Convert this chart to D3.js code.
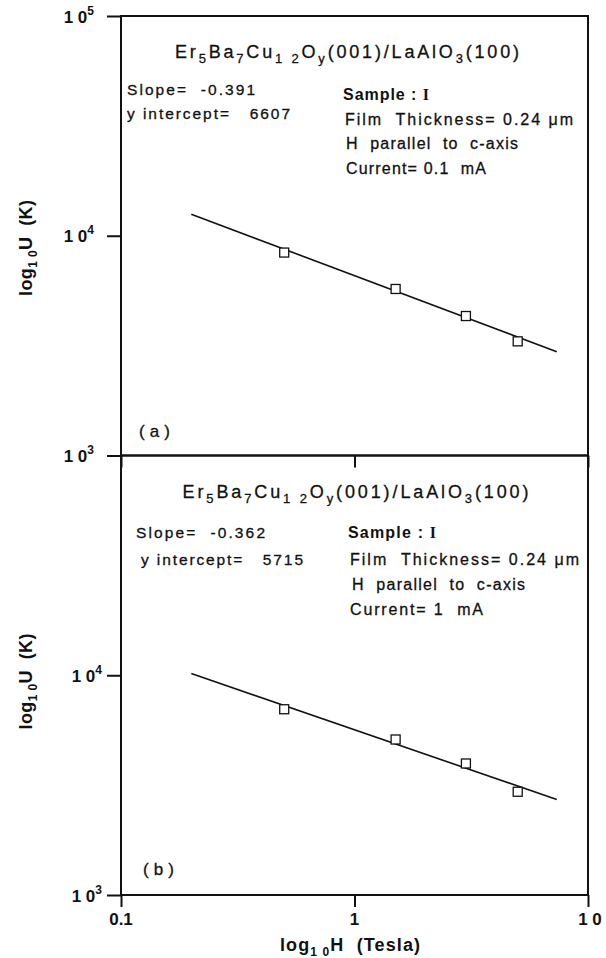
<!DOCTYPE html>
<html lang="en">
  <head>
    <meta charset="UTF-8" />
    <title>U vs H, Er5Ba7Cu12Oy / LaAlO3</title>
    <script src="https://cdnjs.cloudflare.com/ajax/libs/d3/7.8.5/d3.min.js"></script>
    <style>
      body { margin: 0; background: #fff; }
      svg { font-family: "Liberation Sans", Arial, sans-serif; }
      svg text { fill: #111; stroke: #111; stroke-width: 0.3px; white-space: pre; }
    </style>
  </head>
  <body>
    <div id="chart"></div>

    <script type="text/javascript">
      /* values */
      var fieldH = [0.5, 1.5, 3, 5];
      var uCurrent01 = [8385, 5725, 4312, 3307];
      var uCurrent1 = [7003, 5101, 3967, 2950];
      var fitH = [0.2, 7.35];
      var fitCurrent01 = [12520, 2968];
      var fitCurrent1 = [10180, 2720];

      var xTicks = [0.1, 1, 10];
      var xTickLabels = ["0.1", "1", "1 0"];
      var yTicksTop = [1e3, 1e4, 1e5];
      var yTicksBottom = [1e3, 1e4];

      var fitTextTop = ["Slope=  -0.391", "y intercept=   6607"];
      var fitTextBottom = ["Slope=  -0.362", "y intercept=   5715"];
      var infoTop = ["Film  Thickness= 0.24 \u03bcm", "H  parallel  to  c-axis", "Current= 0.1  mA"];
      var infoBottom = ["Film  Thickness= 0.24 \u03bcm", "H  parallel  to  c-axis", "Current= 1  mA"];

      var W = 606, H = 958;
      var svg = d3.select("#chart").append("svg")
        .attr("width", W).attr("height", H);

      var x = d3.scaleLog().domain([0.1, 10]).range([121, 588]);

      // layout of each panel: text boxes as [x, baseline, width]
      var panels = [
        { y0: 16, y1: 455.5, u: uCurrent01, fit: fitCurrent01, ticks: yTicksTop, labelEnd: 94,
          fitText: fitTextTop, info: infoTop, tag: "(a)", tagPos: [139, 437], ylabelY: 248,
          titleBox: [175, 58, 344],
          fitBox: [[127, 95, 128], [127, 118.5, 163]],
          sampleBox: [343, 99.5, 86],
          infoBox: [[345, 124.5, 228], [346, 149, 172], [346, 174, 140]] },
        { y0: 455.5, y1: 895, u: uCurrent1, fit: fitCurrent1, ticks: yTicksBottom, labelEnd: 102,
          fitText: fitTextBottom, info: infoBottom, tag: "(b)", tagPos: [143, 875], ylabelY: 681.5,
          titleBox: [182.5, 498, 346],
          fitBox: [[136, 538, 129], [141, 565, 162]],
          sampleBox: [348, 538, 88],
          infoBox: [[350, 565, 229], [352, 590, 173], [350, 615, 133]] }
      ];

      function title(g, b) {
        /* Er5Ba7Cu12Oy(001)/LaAlO3(100) with subscripts */
        var parts = [["Er", 0], ["5", 1], ["Ba", 0], ["7", 1], ["Cu", 0], ["1 2", 1], ["O", 0], ["y", 1],
                     ["(001)/LaAlO", 0], ["3", 1], ["(100)", 0]];
        var t = g.append("text").attr("x", b[0]).attr("y", b[1])
          .attr("textLength", b[2]).attr("lengthAdjust", "spacing")
          .style("font-size", "18px");
        var low = false;
        parts.forEach(function (p) {
          var s = t.append("tspan").text(p[0]);
          if (p[1]) s.style("font-size", "13px");
          if (p[1] && !low) { s.attr("dy", 5); low = true; }
          else if (!p[1] && low) { s.attr("dy", -5); low = false; }
        });
      }

      function boxText(g, b, s, size) {
        return g.append("text").attr("x", b[0]).attr("y", b[1])
          .attr("textLength", b[2]).attr("lengthAdjust", "spacing")
          .style("font-size", size + "px").text(s);
      }

      panels.forEach(function (p) {
        var y = d3.scaleLog().domain([1e3, 1e5]).range([p.y1, p.y0]);
        var g = svg.append("g");

        g.append("rect")
          .attr("x", x(0.1)).attr("y", y(1e5))
          .attr("width", x(10) - x(0.1)).attr("height", y(1e3) - y(1e5))
          .attr("fill", "none").attr("stroke", "#111").attr("stroke-width", 2);

        var ya = g.append("g").attr("transform", "translate(" + x(0.1) + ",0)")
          .call(d3.axisLeft(y).tickValues(p.ticks).tickSize(14).tickFormat(""));
        var xa = g.append("g").attr("transform", "translate(0," + y(1e3) + ")")
          .call(d3.axisBottom(x).tickValues(xTicks).tickSize(12).tickFormat(""));
        [ya, xa].forEach(function (a) {
          a.select(".domain").remove();
          a.selectAll("line").attr("stroke", "#111").attr("stroke-width", 2);
        });

        /* y tick labels 10^n */
        p.ticks.forEach(function (v) {
          var t = g.append("text").attr("x", p.labelEnd).attr("y", y(v) + 6.5)
            .attr("text-anchor", "end").style("font-size", "17px").style("font-weight", "bold")
            .style("stroke-width", "0px");
          t.append("tspan").text("1 0");
          t.append("tspan").attr("dy", -8).style("font-size", "12px").text(Math.round(Math.log10(v)));
        });

        /* fitted line */
        var line = d3.line().x(function (d) { return x(d[0]); }).y(function (d) { return y(d[1]); });
        g.append("path").datum(d3.zip(fitH, p.fit)).attr("d", line)
          .attr("fill", "none").attr("stroke", "#111").attr("stroke-width", 1.6);

        /* measured points */
        g.selectAll("rect.pt").data(d3.zip(fieldH, p.u)).enter().append("rect")
          .attr("class", "pt")
          .attr("x", function (d) { return x(d[0]) - 4.5; })
          .attr("y", function (d) { return y(d[1]) - 4.5; })
          .attr("width", 9).attr("height", 9)
          .attr("fill", "#fff").attr("stroke", "#111").attr("stroke-width", 1.3);

        title(g, p.titleBox);

        p.fitText.forEach(function (s, i) { boxText(g, p.fitBox[i], s, 15.5); });

        var smp = g.append("text").attr("x", p.sampleBox[0]).attr("y", p.sampleBox[1])
          .attr("textLength", p.sampleBox[2]).attr("lengthAdjust", "spacing")
          .style("font-size", "16px").style("font-weight", "bold").style("stroke-width", "0px");
        smp.append("tspan").text("Sample : ");
        smp.append("tspan").style("font-family", "'Liberation Serif', serif").text("I");

        p.info.forEach(function (s, i) { boxText(g, p.infoBox[i], s, 16); });

        g.append("text").attr("x", p.tagPos[0]).attr("y", p.tagPos[1]).text(p.tag)
          .attr("textLength", 31).attr("lengthAdjust", "spacing")
          .style("font-size", "17px");

        /* y axis title */
        var yl = g.append("text")
          .attr("transform", "translate(32," + p.ylabelY + ") rotate(-90)")
          .attr("text-anchor", "middle").attr("textLength", 96).attr("lengthAdjust", "spacing")
          .style("font-size", "18px").style("font-weight", "bold").style("stroke-width", "0px");
        yl.append("tspan").text("log");
        yl.append("tspan").attr("dy", 5).style("font-size", "12px").text("1 0");
        yl.append("tspan").attr("dy", -5).text("U  (K)");
      });

      /* x tick labels and title (bottom panel only) */
      svg.selectAll("text.xt").data(xTicks).enter().append("text")
        .attr("class", "xt")
        .attr("x", function (d) { return x(d) + (d === 10 ? 2 : 0); })
        .attr("y", 925).attr("text-anchor", "middle")
        .style("font-size", "17px").style("font-weight", "bold").style("stroke-width", "0px")
        .text(function (d, i) { return xTickLabels[i]; });

      var xl = svg.append("text").attr("x", 350).attr("y", 950.5).attr("text-anchor", "middle")
        .attr("textLength", 140).attr("lengthAdjust", "spacing")
        .style("font-size", "18px").style("font-weight", "bold").style("stroke-width", "0px");
      xl.append("tspan").text("log");
      xl.append("tspan").attr("dy", 5).style("font-size", "12px").text("1 0");
      xl.append("tspan").attr("dy", -5).text("H  (Tesla)");
    </script>
  </body>
</html>
